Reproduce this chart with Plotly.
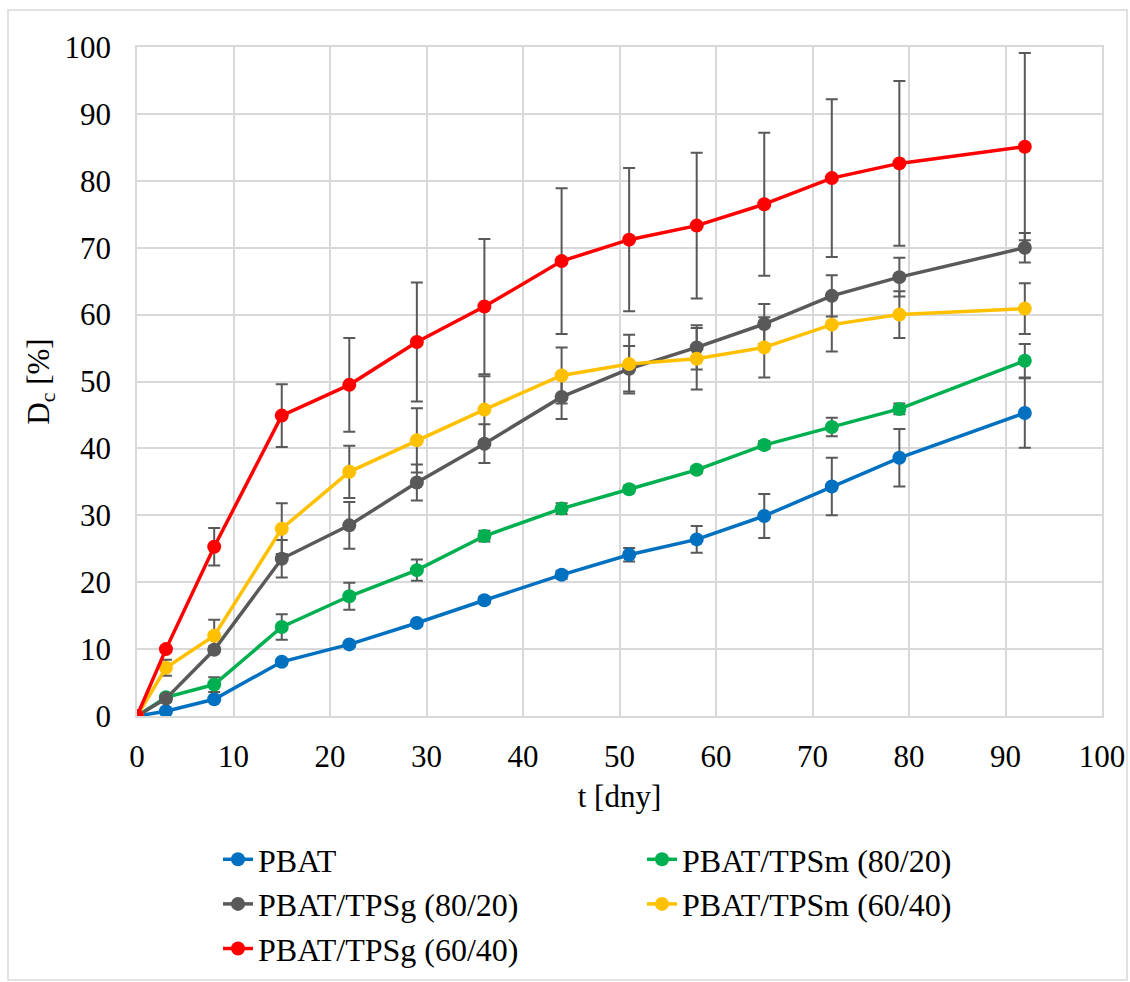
import plotly.graph_objects as go

# Sampling days
t_days = [0, 3, 8, 15, 22, 29, 36, 44, 51, 58, 65, 72, 79, 92]

# Degree of disintegration D_c [%] and standard deviations
pbat = [0, 0.7, 2.5, 8.1, 10.7, 13.9, 17.3, 21.1, 24.1, 26.4, 29.9, 34.3, 38.6, 45.3]
pbat_err = [0, 0.2, 0.3, 0.4, 0.4, 0.4, 0.5, 0.6, 1.0, 2.0, 3.3, 4.3, 4.3, 5.2]

tpsm_80 = [0, 2.8, 4.7, 13.3, 17.9, 21.8, 26.9, 31.0, 33.9, 36.8, 40.5, 43.2, 45.9, 53.1]
tpsm_80_err = [0, 0.4, 1.1, 1.9, 2.0, 1.6, 0.8, 0.8, 0.5, 0.5, 0.6, 1.4, 0.8, 2.5]

tpsg_80 = [0, 2.6, 9.9, 23.5, 28.5, 34.9, 40.7, 47.7, 51.9, 55.1, 58.6, 62.8, 65.6, 70.0]
tpsg_80_err = [0, 0.5, 0.5, 2.8, 3.5, 2.7, 2.9, 3.3, 3.4, 3.3, 3.0, 3.1, 2.9, 2.2]

tpsm_60 = [0, 7.2, 12.0, 28.0, 36.5, 41.2, 45.8, 50.9, 52.6, 53.4, 55.1, 58.5, 60.0, 60.9]
tpsm_60_err = [0, 1.2, 2.4, 3.8, 3.9, 4.8, 5.0, 4.2, 4.4, 4.6, 4.5, 4.0, 3.5, 3.8]

tpsg_60 = [0, 10.0, 25.3, 44.9, 49.5, 55.9, 61.2, 68.0, 71.2, 73.3, 76.5, 80.4, 82.6, 85.1]
tpsg_60_err = [0, 0.4, 2.8, 4.7, 7.0, 8.9, 10.1, 10.9, 10.7, 10.9, 10.7, 11.8, 12.3, 14.0]

series_names = ["PBAT", "PBAT/TPSm (80/20)", "PBAT/TPSg (80/20)",
                "PBAT/TPSm (60/40)", "PBAT/TPSg (60/40)"]
series_values = [pbat, tpsm_80, tpsg_80, tpsm_60, tpsg_60]
series_errors = [pbat_err, tpsm_80_err, tpsg_80_err, tpsm_60_err, tpsg_60_err]
series_colors = ["#0070C0", "#00B050", "#595959", "#FFC000", "#FF0000"]

x_ticks = list(range(0, 101, 10))
y_ticks = list(range(0, 101, 10))

FONT = "Liberation Serif, Times New Roman, serif"
GRID = "#d9d9d9"

# Figure geometry (pixels)
W, H = 1130, 982
ML, MR, MT, MB = 137, 28, 47, 266
PW, PH = W - ML - MR, H - MT - MB

fig = go.Figure()
for name, vals, errs, col in zip(series_names, series_values, series_errors, series_colors):
    fig.add_trace(go.Scatter(
        x=t_days, y=vals, name=name, mode="lines+markers",
        line=dict(color=col, width=3.5),
        marker=dict(color=col, size=14),
        error_y=dict(type="data", array=errs, visible=True,
                     color="#595959", thickness=2, width=6),
    ))

fig.update_layout(
    width=W, height=H,
    margin=dict(l=ML, r=MR, t=MT, b=MB, autoexpand=False),
    paper_bgcolor="white", plot_bgcolor="white",
    font=dict(family=FONT, size=31, color="black"),
    showlegend=True,
    legend=dict(
        orientation="h", x=(218 - ML) / PW, xanchor="left",
        y=((PH + MT) - 832) / PH, yanchor="top",
        entrywidth=379, entrywidthmode="pixels",
        font=dict(family=FONT, size=32, color="black"),
        itemwidth=30, tracegroupgap=0, bgcolor="rgba(0,0,0,0)",
    ),
    xaxis=dict(
        range=[0, 100], tickvals=x_ticks, ticktext=[str(v) for v in x_ticks],
        showgrid=True, gridcolor=GRID, gridwidth=1.5,
        showline=True, linecolor=GRID, linewidth=1.5, mirror=True,
        zeroline=False, ticks="", ticklabelstandoff=12,
        tickfont=dict(family=FONT, size=31),
        title=dict(text="t [dny]", font=dict(family=FONT, size=31), standoff=12),
    ),
    yaxis=dict(
        range=[0, 100], tickvals=y_ticks, ticktext=[str(v) for v in y_ticks],
        showgrid=True, gridcolor=GRID, gridwidth=1.5,
        showline=True, linecolor=GRID, linewidth=1.5, mirror=True,
        zeroline=False, ticks="", ticklabelstandoff=18,
        tickfont=dict(family=FONT, size=31),
        title=dict(text="D<sub>c</sub> [%]", font=dict(family=FONT, size=31), standoff=6),
    ),
    shapes=[dict(
        type="rect", xref="paper", yref="paper",
        x0=(8 - ML) / PW, x1=(1127 - ML) / PW,
        y0=(MT + PH - 980) / PH, y1=(MT + PH - 10) / PH,
        line=dict(color=GRID, width=1.5), fillcolor="rgba(0,0,0,0)", layer="below",
    )],
)

fig.write_html("out.html")
